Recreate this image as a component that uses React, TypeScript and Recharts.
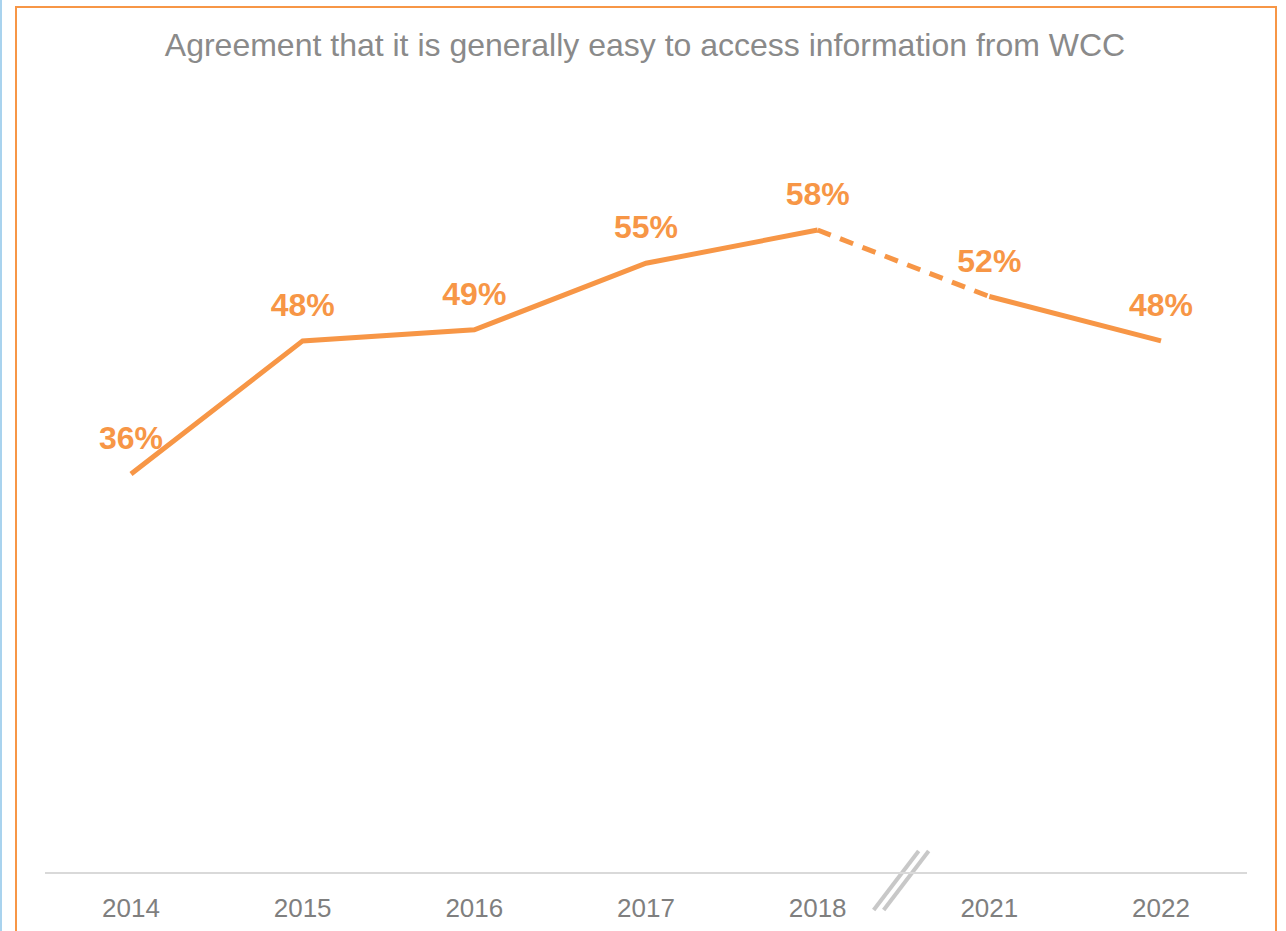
import React from 'react';
import { LineChart, Line, XAxis, YAxis, LabelList, ReferenceLine } from 'recharts';

// Survey years (gap between 2018 and 2021)
const years = ['2014', '2015', '2016', '2017', '2018', '2021', '2022'];
// Agreement (%) per year
const agreement = [36, 48, 49, 55, 58, 52, 48];
// segments: solid before the break, dashed across it, solid after it
const solidBefore = [36, 48, 49, 55, 58, null, null];
const dashedGap = [null, null, null, null, 58, 52, null];
const solidAfter = [null, null, null, null, null, 52, 48];

const ORANGE = '#F79646';

const data = years.map((year, i) => ({
    year,
    all: agreement[i],
    a: solidBefore[i],
    b: dashedGap[i],
    c: solidAfter[i],
}));

// two slanted strokes marking the axis break, drawn half a category right of 2018
const BreakMark = (props: any) => {
    const x = props.x1 + 86;
    const y = Math.max(props.y1, props.y2);
    return (
        <g stroke="#C8C8C8" strokeWidth={4}>
            <line x1={x - 30} y1={y + 37} x2={x + 15} y2={y - 22} />
            <line x1={x - 20} y1={y + 37} x2={x + 25} y2={y - 22} />
        </g>
    );
};

export default function App() {
    return (
        <div style={{ position: 'absolute', left: 0, top: 0, width: 1286, height: 931, overflow: 'hidden', background: '#fff', fontFamily: 'Arial, "Liberation Sans", sans-serif' }}>
            <div style={{ position: 'absolute', left: 0, top: 0, width: 2, height: 931, background: '#A9D3EE' }} />
            <div style={{ position: 'absolute', left: 15, top: 6, width: 1258, height: 940, border: `2px solid ${ORANGE}` }} />
            <div style={{ position: 'absolute', left: 0, top: 27, width: 1290, textAlign: 'center', fontSize: 32, color: '#8A8A8A', whiteSpace: 'nowrap' }}>
                Agreement that it is generally easy to access information from WCC
            </div>
            <div style={{ position: 'absolute', left: 0, top: 0 }}>
                <LineChart width={1286} height={931} data={data} margin={{ top: 97, right: 39, bottom: 28, left: 45 }}>
                    <XAxis
                        dataKey="year"
                        height={30}
                        padding={{ left: 86, right: 86 }}
                        axisLine={{ stroke: '#D9D9D9', strokeWidth: 2 }}
                        tickLine={false}
                        tickMargin={20}
                        tick={{ fontSize: 26, fill: '#7F7F7F' }}
                        interval={0}
                    />
                    <YAxis hide domain={[0, 70]} />
                    <Line dataKey="a" stroke={ORANGE} strokeWidth={5} dot={false} isAnimationActive={false} />
                    <Line dataKey="b" stroke={ORANGE} strokeWidth={5} strokeDasharray="14 10" dot={false} isAnimationActive={false} />
                    <Line dataKey="c" stroke={ORANGE} strokeWidth={5} dot={false} isAnimationActive={false} />
                    <Line dataKey="all" stroke="none" dot={false} activeDot={false} isAnimationActive={false}>
                        <LabelList
                            dataKey="all"
                            position="top"
                            offset={25}
                            formatter={(v: number) => `${v}%`}
                            style={{ fontSize: 32, fontWeight: 'bold', fill: ORANGE }}
                        />
                    </Line>
                    <ReferenceLine x="2018" stroke="none" shape={BreakMark} ifOverflow="visible" />
                </LineChart>
            </div>
        </div>
    );
}
